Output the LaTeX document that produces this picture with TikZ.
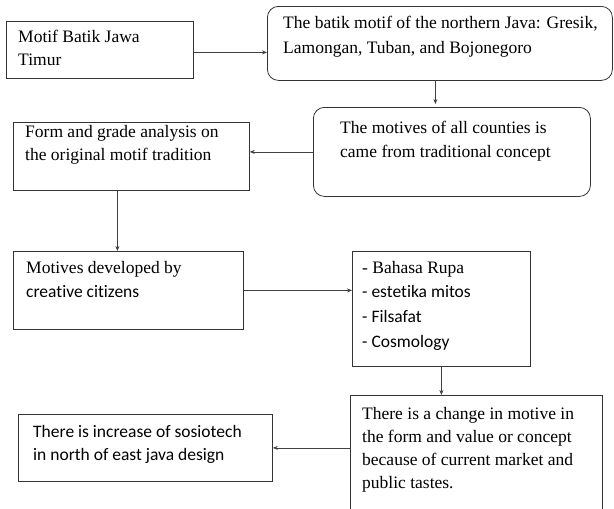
\documentclass[tikz,border=0pt]{standalone}
\usepackage{fontspec}
\setmainfont{Liberation Serif}
\newfontfamily\calibri[Ligatures=NoCommon]{Carlito}
\usetikzlibrary{arrows.meta}

\begin{document}
\begin{tikzpicture}[x=1pt,y=-1pt,
frame/.style={draw=black!80, line width=0.8pt},
box/.style={frame, anchor=north west, inner sep=0pt},
rbox/.style={box, rounded corners=11pt},
txt/.style={anchor=base west, inner sep=0pt, font=\fontsize{17.5}{23.5}\selectfont},
arr/.style={draw=black!75, line width=0.8pt, -{Stealth[length=5pt,width=4pt]}}]
\useasboundingbox (0,0) rectangle (614,509);
\node[box, minimum width=187pt, minimum height=57pt] (motif) at (6,21) {};
\node[txt] (motiftxt) at ([shift={(12,21)}]motif.north west)
{\parbox[t]{172pt}{Motif Batik Jawa\\Timur}};
\node[rbox, minimum width=345pt, minimum height=74pt] (northern) at (267,6) {};
\node[txt, font=\fontsize{17.5}{25}\selectfont] (northerntxt) at ([shift={(16,22)}]northern.north west)
{\parbox[t]{328pt}{The batik motif of the northern Java: Gresik,\\Lamongan, Tuban, and Bojonegoro}};
\node[rbox, minimum width=277pt, minimum height=89pt] (counties) at (313,107) {};
\node[txt, font=\fontsize{17.5}{24}\selectfont] (countiestxt) at ([shift={(27,26)}]counties.north west)
{\parbox[t]{248pt}{The motives of all counties is\\came from traditional concept}};
\node[box, minimum width=236pt, minimum height=68pt] (analysis) at (13,122) {};
\node[txt] (analysistxt) at ([shift={(12,15)}]analysis.north west)
{\parbox[t]{222pt}{Form and grade analysis on\\the original motif tradition}};
\node[box, minimum width=230pt, minimum height=78pt] (developed) at (13,251) {};
\node[txt, font=\fontsize{17.5}{24}\selectfont] (developedtxt) at ([shift={(13,22)}]developed.north west)
{\parbox[t]{215pt}{Motives developed by\\{\calibri creative citizens}}};
\node[box, minimum width=178pt, minimum height=115pt] (aspects) at (352,251) {};
\node[txt, font=\fontsize{17.5}{24.7}\selectfont] (aspectstxt) at ([shift={(10,22)}]aspects.north west)
{\parbox[t]{166pt}{- Bahasa Rupa\\{\calibri - estetika mitos}\\{\calibri - Filsafat}\\{\calibri - Cosmology}}};
\node[box, draw=none, minimum width=252pt, minimum height=114pt] (change) at (350,395) {};
\draw[frame] (change.south west) |- (change.north east) -- (change.south east);
\node[txt, font=\fontsize{17.5}{23}\selectfont] (changetxt) at ([shift={(12,24)}]change.north west)
{\parbox[t]{238pt}{There is a change in motive in\\the form and value or concept\\because of current market and\\public tastes.}};
\node[box, minimum width=254pt, minimum height=67pt] (increase) at (18,414) {};
\node[txt, font=\calibri\fontsize{17.5}{23}\selectfont] (increasetxt) at ([shift={(15,23)}]increase.north west)
{\parbox[t]{236pt}{There is increase of sosiotech\\in north of east java design}};
\draw[arr] ([yshift=-2.5pt]motif.east) -- ([yshift=-2.5pt]motif.east -| northern.west);
\draw[arr] ([xshift=-4.5pt]northern.south) -- ([xshift=-4.5pt,yshift=3pt]northern.south |- counties.north);
\draw[arr] (counties.west) -- (counties.west -| analysis.east);
\draw[arr] ([xshift=-14pt]analysis.south) -- ([xshift=-14pt]analysis.south |- developed.north);
\draw[arr] (developed.east) -- (developed.east -| aspects.west);
\draw[arr] (aspects.south) -- (aspects.south |- change.north);
\draw[arr] (change.west |- increase.east) -- (increase.east);
\end{tikzpicture}
\end{document}
